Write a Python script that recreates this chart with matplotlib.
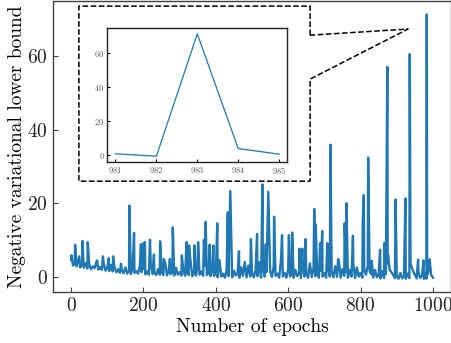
import matplotlib
matplotlib.use("Agg")
import matplotlib.pyplot as plt

plt.rcParams['font.family'] = 'serif'
plt.rcParams['font.serif'] = ['cmr10']
plt.rcParams['mathtext.fontset'] = 'cm'
plt.rcParams['axes.formatter.use_mathtext'] = True
plt.rcParams['axes.unicode_minus'] = False

# Background noise of the loss curve, read every 5 epochs
base_epochs = list(range(0, 1001, 5))
base_values = [
    4.5, 3.0, 3.6, 2.8, 4.4, 2.5, 3.2, 2.4, 3.6, 2.2, 3.3, 2.0, 2.8, 2.3, 4.0, 1.9, 2.6, 1.8, 3.6, 1.6,
    2.4, 1.5, 3.2, 1.4, 2.6, 1.2, 2.0, 1.0, 1.8, 0.9, 2.5, 0.8, 1.6, 0.7, 2.2, 1.0, 1.5, 0.8, 3.0, 1.2,
    2.0, 0.6, 1.4, 0.5, 3.6, 0.7, 1.2, 0.4, 2.0, 0.5, 1.3, 0.4, 3.8, 0.3, 1.6, 0.6, 1.1, 0.3, 2.4, 0.5,
    1.2, 0.3, 1.9, 0.2, 1.0, 0.4, 4.2, 0.1, 1.2, 0.3, 2.8, 0.5, 1.4, 0.2, 3.0, 0.4, 1.0, 0.1, 1.8, 0.2,
    1.0, -0.2, 4.5, 0.0, 0.8, -0.3, 2.0, 0.1, 1.1, -0.2, 1.6, 0.3, 0.7, -0.3, 2.5, 0.2, 4.0, -0.2, 3.0, 0.0,
    1.0, -0.2, 1.8, 0.1, 3.9, -0.3, 2.2, 0.0, 1.2, -0.2, 1.5, -0.1, 2.8, 0.2, 0.8, -0.3, 4.4, 0.0, 1.0, -0.3,
    2.0, 0.0, 0.9, -0.3, 1.8, 0.1, 1.0, -0.4, 2.5, 0.0, 0.8, -0.3, 3.6, -0.1, 2.2, 0.1, 0.9, -0.3, 1.6, 0.0,
    1.0, -0.3, 2.4, 0.0, 1.2, -0.2, 2.8, -0.1, 4.2, -0.3, 2.0, 0.2, 1.2, -0.3, 1.8, 0.0, 3.4, -0.4, 2.5, 0.0,
    1.0, -0.3, 2.0, 0.5, 3.0, 1.5, 0.6, -0.3, 1.8, -0.2, 0.5, -0.5, 1.5, -0.4, 0.6, 3.5, 2.0, 1.2, 0.5, -0.4,
    0.3, -0.6, 1.0, -0.5, 0.2, -0.6, 0.8, -0.4, 3.0, 1.5, 0.5, -0.5, 1.2, -0.4, 0.3, -0.6, 0.5, -0.5, 2.0, 0.5,
    -0.3,
]

# Spikes and other individual points
spike_epochs = [1, 11, 22, 31, 46, 72, 88, 104, 116, 138, 161, 174, 193, 199, 204, 218, 229,
                246, 256, 273, 281, 306, 319, 326, 341, 351, 367, 372, 383, 393, 404, 433, 440,
                464, 497, 514, 529, 538, 545, 561, 583, 602, 611, 631, 639, 648, 672, 676, 688,
                694, 708, 717, 738, 756, 761, 779, 806, 809, 821, 831, 854, 866, 874, 876, 879,
                897, 924, 936, 938, 959, 974, 981, 982, 983, 984, 985, 991, 1000]
spike_values = [5.8, 8.7, 5.5, 9.7, 9.4, 4.4, 5.5, 5.0, 5.5, 3.5, 19.3, 11.9, 8.8, 9.1, 9.4, 10.0, 6.0,
                9.6, 4.8, 4.8, 13.4, 5.8, 9.4, 8.5, 8.5, 9.4, 10.0, 14.9, 8.7, 8.5, 14.5, 17.5, 23.3,
                6.9, 10.2, 11.6, 25.1, 8.8, 23.1, 16.3, 11.3, 11.3, 12.0, 7.6, 7.6, 10.2, 18.4, 14.2, 9.1,
                12.4, 9.1, 35.9, 4.8, 14.5, 20.0, 11.1, 14.2, 22.2, 32.4, 4.3, 7.3, 9.2, 57.1, 6.0, 3.0,
                21.0, 21.3, 60.6, 4.0, 4.6, 4.4, 0.8, -0.6, 71.4, 3.9, 0.6, 4.7, -0.3]

zoom_epochs = [981, 982, 983, 984, 985]

series = dict(zip(base_epochs, base_values))
series.update(dict(zip(spike_epochs, spike_values)))
epochs = sorted(series)
values = [series[e] for e in epochs]
zoom_values = [series[e] for e in zoom_epochs]

fig = plt.figure(figsize=(4.52, 3.43), dpi=100)
ax = fig.add_axes([0.1173, 0.1487, 0.8805, 0.848])
ax.plot(epochs, values, color='#1f77b4', lw=1.7)
ax.set_xlabel('Number of epochs', fontsize=14, labelpad=2)
ax.set_ylabel('Negative variational lower bound', fontsize=14, labelpad=1)
ax.set_xticks([0, 200, 400, 600, 800, 1000])
ax.set_yticks([0, 20, 40, 60])
ax.tick_params(direction='in', labelsize=14, length=3.5, color='#444', labelcolor='#222')
for s in ax.spines.values():
    s.set_color('#444')
    s.set_linewidth(1.0)

# Dashed call-out frame (axes fraction)
frame_x = [0.646, 0.646, 0.065, 0.065, 0.646, 0.646, 0.892, 0.646]
frame_y = [0.883, 0.983, 0.983, 0.381, 0.381, 0.732, 0.904, 0.883]
ax.plot(frame_x, frame_y, transform=ax.transAxes, color='black', lw=1.1,
        ls='--', clip_on=False)

ins = fig.add_axes([0.2374, 0.5268, 0.3982, 0.3924])
ins.plot(zoom_epochs, zoom_values, color='#1f77b4', lw=0.9)
ins.set_xticks(zoom_epochs)
ins.set_yticks([0, 20, 40, 60])
ins.tick_params(direction='in', labelsize=6, length=2, labelcolor='#555', pad=2)
for s in ins.spines.values():
    s.set_color('#222')
    s.set_linewidth(1.0)

fig.savefig('out.png', dpi=100)
